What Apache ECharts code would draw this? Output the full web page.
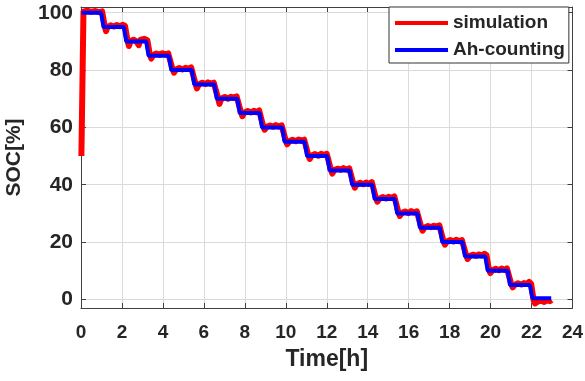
<!DOCTYPE html>
<html>
<head>
<meta charset="utf-8">
<script src="https://cdn.jsdelivr.net/npm/echarts@6/dist/echarts.min.js"></script>
<style>
  html, body { margin: 0; padding: 0; background: #fff; }
  #chart { width: 585px; height: 381px; }
</style>
</head>
<body>
<div id="chart"></div>
<script>
// x ticks (hours) and y ticks (SOC %)
const xTicks = [0, 2, 4, 6, 8, 10, 12, 14, 16, 18, 20, 22, 24]
const yTicks = [0, 20, 40, 60, 80, 100]

// [time h, SOC %]
const ahCounting = [
  [0.03, 100], [0.98, 100], [1.10, 95], [2.09, 95], [2.21, 90], [3.18, 90],
  [3.30, 85], [4.29, 85], [4.41, 80], [5.41, 80], [5.53, 75], [6.51, 75],
  [6.63, 70], [7.63, 70], [7.75, 65], [8.72, 65], [8.84, 60], [9.82, 60],
  [9.94, 55], [10.92, 55], [11.04, 50], [12.02, 50], [12.14, 45], [13.12, 45],
  [13.24, 40], [14.22, 40], [14.34, 35], [15.32, 35], [15.44, 30], [16.43, 30],
  [16.55, 25], [17.52, 25], [17.64, 20], [18.63, 20], [18.75, 15], [19.74, 15],
  [19.86, 10], [20.83, 10], [20.95, 5], [21.92, 5], [22.04, 0.4], [22.96, 0.4]
]

const simulation = [
  [0.02, 50], [0.12, 100.4], [0.3, 100.7], [0.5, 100.3], [0.7, 100.6], [0.88, 100.2], [1.03, 100.5],
  [1.16, 95.3], [1.22, 93.6], [1.3, 95.0], [1.45, 95.6], [1.6, 95.2], [1.75, 95.7], [1.9, 95.3], [2.05, 95.8], [2.15, 95.4],
  [2.27, 90.3], [2.34, 88.4], [2.42, 90.1], [2.56, 90.6], [2.7, 90.0], [2.82, 88.7], [2.9, 90.5], [3.08, 90.9], [3.24, 90.4],
  [3.36, 85.4], [3.43, 84.0], [3.52, 85.2], [3.68, 85.8], [3.84, 85.3], [3.98, 85.9], [4.12, 85.4], [4.26, 85.8], [4.35, 85.3],
  [4.47, 80.3], [4.54, 79.1], [4.64, 80.2], [4.8, 80.7], [4.96, 80.2], [5.1, 80.8], [5.24, 80.4], [5.38, 80.9], [5.47, 80.5],
  [5.59, 75.2], [5.66, 73.6], [5.76, 75.0], [5.92, 75.6], [6.08, 75.1], [6.2, 75.7], [6.34, 75.2], [6.48, 75.6], [6.57, 75.3],
  [6.69, 70.3], [6.76, 68.2], [6.86, 70.1], [7.02, 70.6], [7.18, 70.0], [7.32, 70.7], [7.46, 70.3], [7.6, 70.8], [7.69, 70.4],
  [7.81, 65.3], [7.88, 63.9], [7.98, 65.2], [8.14, 65.7], [8.3, 65.2], [8.44, 65.8], [8.58, 65.3], [8.7, 65.9], [8.78, 65.4],
  [8.9, 60.3], [8.97, 59.2], [9.07, 60.2], [9.23, 60.7], [9.39, 60.2], [9.52, 60.8], [9.66, 60.3], [9.8, 60.7], [9.88, 60.4],
  [10.0, 55.3], [10.07, 54.1], [10.17, 55.1], [10.33, 55.7], [10.49, 55.2], [10.62, 55.8], [10.76, 55.3], [10.9, 55.7], [10.98, 55.4],
  [11.1, 50.3], [11.17, 49.0], [11.27, 50.2], [11.43, 50.7], [11.59, 50.1], [11.72, 50.8], [11.86, 50.4], [12.0, 50.8], [12.08, 50.3],
  [12.2, 45.3], [12.27, 43.9], [12.37, 45.1], [12.53, 45.6], [12.69, 45.2], [12.82, 45.8], [12.96, 45.3], [13.1, 45.7], [13.18, 45.4],
  [13.3, 40.3], [13.37, 39.0], [13.47, 40.2], [13.63, 40.7], [13.79, 40.2], [13.92, 40.8], [14.06, 40.3], [14.2, 40.9], [14.28, 40.4],
  [14.4, 35.3], [14.47, 34.1], [14.57, 35.1], [14.73, 35.7], [14.89, 35.2], [15.02, 35.8], [15.16, 35.4], [15.3, 35.9], [15.38, 35.4],
  [15.5, 30.3], [15.57, 29.1], [15.67, 30.2], [15.83, 30.7], [15.99, 30.1], [16.12, 30.8], [16.26, 30.3], [16.4, 30.7], [16.49, 30.4],
  [16.61, 25.3], [16.68, 24.0], [16.78, 25.1], [16.94, 25.6], [17.1, 25.2], [17.23, 25.7], [17.37, 25.3], [17.5, 25.8], [17.58, 25.4],
  [17.7, 20.3], [17.77, 19.1], [17.87, 20.2], [18.03, 20.7], [18.19, 20.2], [18.32, 20.8], [18.46, 20.3], [18.6, 20.7], [18.69, 20.4],
  [18.81, 15.3], [18.88, 14.1], [18.98, 15.1], [19.14, 15.6], [19.3, 15.2], [19.43, 15.7], [19.57, 15.3], [19.7, 15.9], [19.8, 15.4],
  [19.92, 10.3], [19.99, 9.2], [20.09, 10.2], [20.25, 10.7], [20.41, 10.2], [20.54, 10.8], [20.68, 10.3], [20.8, 10.8], [20.89, 10.4],
  [21.01, 5.3], [21.08, 4.2], [21.18, 5.1], [21.34, 5.6], [21.5, 5.2], [21.63, 5.7], [21.77, 5.4], [21.88, 6.1], [21.98, 5.4],
  [22.1, -0.2], [22.17, -1.4], [22.3, -0.8], [22.46, -0.4], [22.62, -0.9], [22.76, -0.3], [22.9, -0.6], [22.98, -0.2]
]

const font = "'Liberation Sans', Arial, sans-serif"
const ink = '#262626'
const frame = '#404040'
const gridColor = '#dadada'

const chart = echarts.init(document.getElementById('chart'), null, { renderer: 'canvas' })

chart.setOption({
  animation: false,
  backgroundColor: '#fff',
  textStyle: { fontFamily: font },
  grid: { left: 81, right: 12.5, top: 7, bottom: 73, containLabel: false, outerBoundsMode: 'none' },
  legend: {
    orient: 'vertical',
    left: 389,
    top: 7,
    padding: [5, 4, 2, 6],
    itemGap: 5,
    itemWidth: 53,
    itemHeight: 4,
    icon: 'rect',
    backgroundColor: '#fff',
    borderColor: '#333',
    borderWidth: 1,
    borderRadius: 0,
    textStyle: { fontFamily: font, fontSize: 19, fontWeight: 'bold', color: ink, lineHeight: 22 },
    data: ['simulation', 'Ah-counting'],
  },
  xAxis: [
    {
      type: 'value',
      min: 0,
      max: 24,
      interval: 2,
      name: 'Time[h]',
      nameLocation: 'middle',
      nameGap: 40,
      nameTextStyle: { fontFamily: font, fontSize: 23, fontWeight: 'bold', color: ink },
      axisLine: { onZero: false, lineStyle: { color: frame, width: 1 } },
      axisTick: { inside: true, length: 5, lineStyle: { color: frame } },
      axisLabel: {
        margin: 15,
        fontFamily: font,
        fontSize: 19,
        fontWeight: 'bold',
        color: ink,
        customValues: xTicks,
      },
      splitLine: { show: true, lineStyle: { color: gridColor, width: 1 } },
    },
    {
      type: 'value',
      position: 'top',
      min: 0,
      max: 24,
      interval: 2,
      axisLine: { show: true, onZero: false, lineStyle: { color: frame, width: 1 } },
      axisTick: { show: true, inside: true, length: 5, lineStyle: { color: frame } },
      axisLabel: { show: false },
      splitLine: { show: false },
    },
  ],
  yAxis: [
    {
      type: 'value',
      min: -3,
      max: 102,
      name: 'SOC[%]',
      nameLocation: 'middle',
      nameGap: 56,
      nameTextStyle: { fontFamily: font, fontSize: 21, fontWeight: 'bold', color: ink },
      axisLine: { show: true, onZero: false, lineStyle: { color: frame, width: 1 } },
      axisTick: { show: true, inside: true, length: 5, customValues: yTicks, lineStyle: { color: frame } },
      axisLabel: {
        margin: 8,
        fontFamily: font,
        fontSize: 21,
        fontWeight: 'bold',
        color: ink,
        customValues: yTicks,
      },
      splitLine: { show: true, lineStyle: { color: gridColor, width: 1 } },
    },
    {
      type: 'value',
      position: 'right',
      min: -3,
      max: 102,
      axisLine: { show: true, onZero: false, lineStyle: { color: frame, width: 1 } },
      axisTick: { show: true, inside: true, length: 5, customValues: yTicks, lineStyle: { color: frame } },
      axisLabel: { show: false },
      splitLine: { show: false },
    },
  ],
  series: [
    {
      name: 'simulation',
      type: 'line',
      data: simulation,
      showSymbol: false,
      symbol: 'none',
      lineStyle: { color: '#ff0000', width: 6, join: 'round' },
      itemStyle: { color: '#ff0000' },
      z: 2,
    },
    {
      name: 'Ah-counting',
      type: 'line',
      data: ahCounting,
      showSymbol: false,
      symbol: 'none',
      lineStyle: { color: '#0000ff', width: 4 },
      itemStyle: { color: '#0000ff' },
      z: 3,
    },
  ],
})
</script>
</body>
</html>
